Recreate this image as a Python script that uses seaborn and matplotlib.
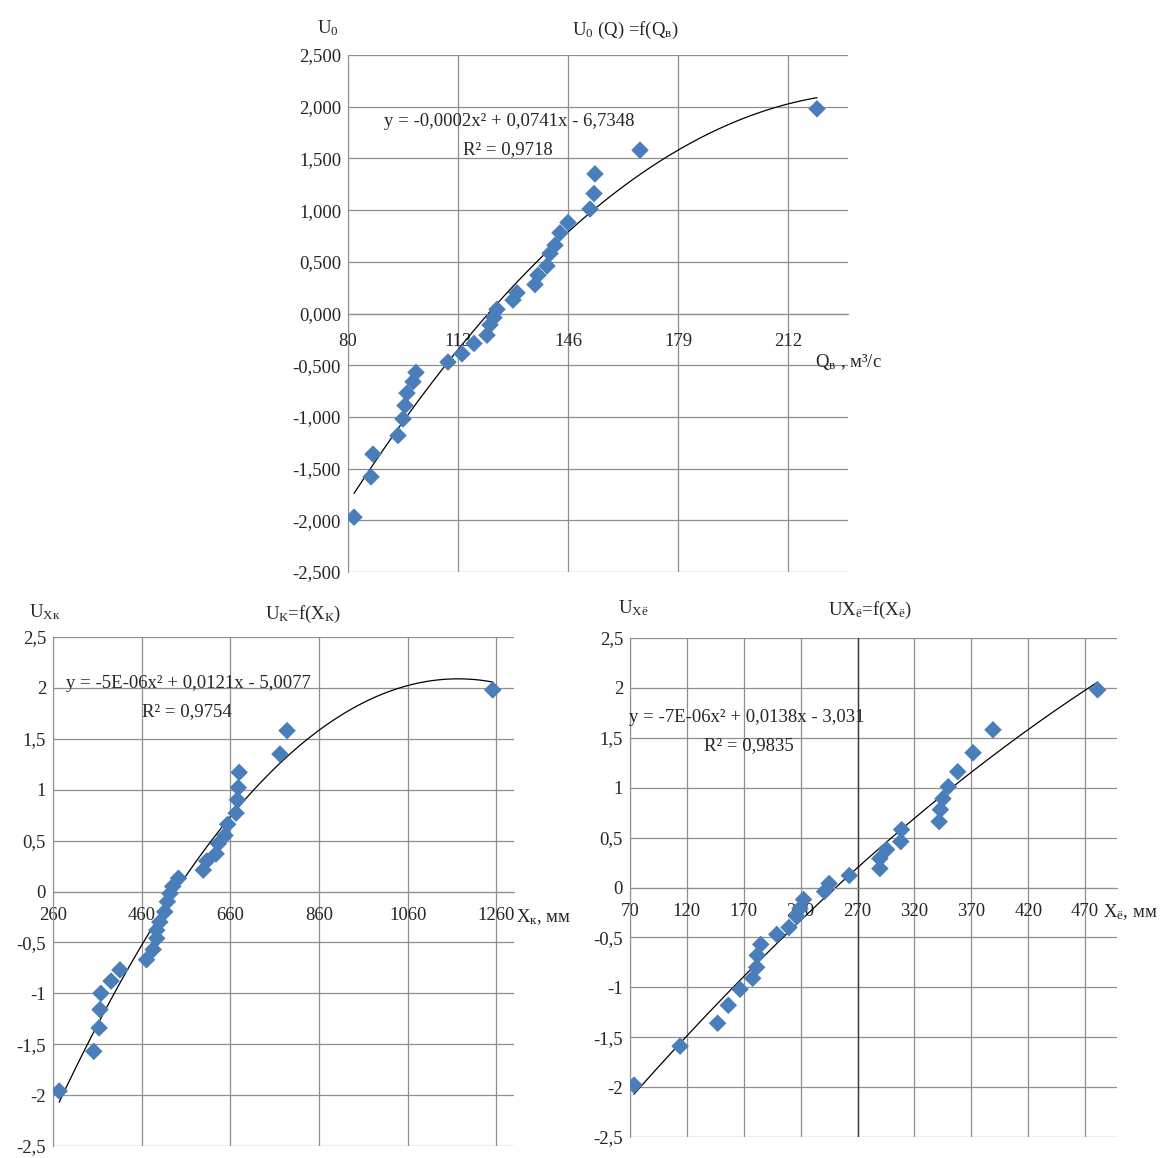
import matplotlib
matplotlib.use("Agg")
import matplotlib.pyplot as plt
import numpy as np
import pandas as pd
import seaborn as sns

# ---- values ----
# U0(Q) = f(Qв)
q_flow = [81.8, 86.9, 87.5, 95.0, 96.5, 97.1, 97.7, 99.5, 100.4, 110.0,
          114.2, 117.8, 121.7, 122.6, 123.8, 124.7, 129.5, 130.7, 136.1, 137.0,
          139.7, 140.6, 142.1, 143.6, 146.0, 152.6, 153.8, 154.1, 167.6, 220.7]
u0_q = [-1.97, -1.58, -1.36, -1.18, -1.02, -0.89, -0.77, -0.66, -0.57, -0.47,
        -0.39, -0.29, -0.21, -0.11, -0.04, 0.04, 0.13, 0.20, 0.28, 0.37,
        0.46, 0.58, 0.66, 0.78, 0.88, 1.01, 1.16, 1.35, 1.58, 1.98]

# UK = f(XK)
xk_mm = [274, 352, 364, 366, 368, 391, 411, 471, 486, 494,
         494, 501, 512, 518, 524, 530, 543, 599, 607, 628,
         633, 648, 654, 673, 676, 678, 680, 772, 788, 1252]
u_xk = [-1.96, -1.57, -1.34, -1.16, -1.00, -0.88, -0.77, -0.67, -0.57, -0.46,
        -0.38, -0.30, -0.20, -0.10, -0.02, 0.05, 0.13, 0.21, 0.30, 0.37,
        0.47, 0.55, 0.66, 0.77, 0.90, 1.02, 1.17, 1.35, 1.58, 1.98]

# UXё = f(Xё)
xe_mm = [73.5, 114, 147, 156.4, 166.7, 177.8, 181.3, 181.9, 184.9, 199,
         209.7, 216.5, 219.4, 222.5, 241, 245, 262.7, 289.6, 289.6, 295.5,
         308, 308.7, 341.7, 342.8, 345, 349.7, 358, 371.5, 389, 481]
u_xe = [-1.98, -1.59, -1.36, -1.18, -1.02, -0.91, -0.80, -0.68, -0.57, -0.47,
        -0.40, -0.29, -0.21, -0.12, -0.04, 0.04, 0.12, 0.19, 0.29, 0.38,
        0.46, 0.58, 0.66, 0.78, 0.89, 1.01, 1.16, 1.35, 1.58, 1.98]

q_ticks = [80, 113, 146, 179, 212]
xk_ticks = [260, 460, 660, 860, 1060, 1260]
xe_ticks = [70, 120, 170, 220, 270, 320, 370, 420, 470]
u_ticks = [-2.5, -2.0, -1.5, -1.0, -0.5, 0.0, 0.5, 1.0, 1.5, 2.0, 2.5]
u0_labels = ['-2,500', '-2,000', '-1,500', '-1,000', '-0,500', '0,000',
             '0,500', '1,000', '1,500', '2,000', '2,500']
u_labels = ['-2,5', '-2', '-1,5', '-1', '-0,5', '0', '0,5', '1', '1,5', '2', '2,5']

W, H = 1163, 1158
FS = 13.5
BLUE = '#4a7ebb'
GRID = '#8f8f8f'

sns.set_style('white')
plt.rcParams['font.family'] = ['Liberation Serif', 'DejaVu Serif']
plt.rcParams['mathtext.fontset'] = 'custom'
plt.rcParams['mathtext.rm'] = 'Liberation Serif'
plt.rcParams['mathtext.it'] = 'Liberation Serif:italic'
plt.rcParams['mathtext.bf'] = 'Liberation Serif:bold'


def box(left, top, right, bottom):
    # pixel box -> figure fraction rect
    return [left / W, 1 - bottom / H, (right - left) / W, (bottom - top) / H]


def ftext(fig, x, y, s, ha='center', size=FS):
    fig.text(x / W, 1 - y / H, s, ha=ha, va='center', fontsize=size)


def draw_panel(ax, x, y, xticks, xlim, ylabels, xpad):
    df = pd.DataFrame({'x': x, 'y': y})
    sns.regplot(data=df, x='x', y='y', order=2, ci=None, scatter=False,
                color='black', line_kws={'lw': 0.9, 'zorder': 2}, ax=ax)
    sns.scatterplot(data=df, x='x', y='y', marker='D', s=80, color=BLUE,
                    edgecolor='none', zorder=3, ax=ax)
    ax.set_xlim(xlim)
    ax.set_ylim(-2.5, 2.5)
    ax.set_xticks(xticks)
    ax.set_xticklabels([str(t) for t in xticks])
    ax.set_yticks(u_ticks)
    ax.set_yticklabels(ylabels)
    ax.set_xlabel('')
    ax.set_ylabel('')
    ax.grid(True, color=GRID, lw=0.9)
    ax.set_axisbelow(True)
    for side in ['top', 'right']:
        ax.spines[side].set_visible(False)
    ax.spines['left'].set_color(GRID)
    ax.spines['bottom'].set_color(GRID)
    ax.spines['bottom'].set_position(('data', 0))
    ax.tick_params(axis='x', length=0, pad=xpad, labelsize=FS)
    ax.tick_params(axis='y', length=0, pad=5, labelsize=FS)


fig = plt.figure(figsize=(W / 100, H / 100), dpi=100)

ax1 = fig.add_axes(box(348, 55, 848, 572))
draw_panel(ax1, q_flow, u0_q, q_ticks, (80, 230), u0_labels, 14)
ftext(fig, 625, 30, 'U$_0$ (Q) =f(Q$_\\mathrm{в}$)')
ftext(fig, 328, 28, 'U$_0$')
ftext(fig, 509, 122, 'y = -0,0002x² + 0,0741x - 6,7348')
ftext(fig, 508, 150, 'R² = 0,9718')
ftext(fig, 815, 362, 'Q$_\\mathrm{в}$ , м³/с', ha='left')

ax2 = fig.add_axes(box(53, 637, 514, 1146))
draw_panel(ax2, xk_mm, u_xk, xk_ticks, (260, 1300), u_labels, 11)
ftext(fig, 303, 614, 'U$_\\mathrm{К}$=f(X$_\\mathrm{К}$)')
ftext(fig, 45, 612, 'U$_\\mathrm{Xк}$')
ftext(fig, 188, 683, 'y = -5E-06x² + 0,0121x - 5,0077')
ftext(fig, 187, 712, 'R² = 0,9754')
ftext(fig, 516, 917, 'X$_\\mathrm{к}$, мм', ha='left')

ax3 = fig.add_axes(box(630, 638, 1117, 1137))
draw_panel(ax3, xe_mm, u_xe, xe_ticks, (70, 498), u_labels, 11)
ax3.axvline(270, color='#3a3a3a', lw=1.0, zorder=1)
ftext(fig, 870, 610, 'UX$_\\mathrm{ё}$=f(X$_\\mathrm{ё}$)')
ftext(fig, 633, 608, 'U$_\\mathrm{Xё}$')
ftext(fig, 747, 718, 'y = -7E-06x² + 0,0138x - 3,031')
ftext(fig, 749, 746, 'R² = 0,9835')
ftext(fig, 1103, 912, 'X$_\\mathrm{ё}$, мм', ha='left')

fig.savefig('out.png', dpi=100, facecolor='white')
